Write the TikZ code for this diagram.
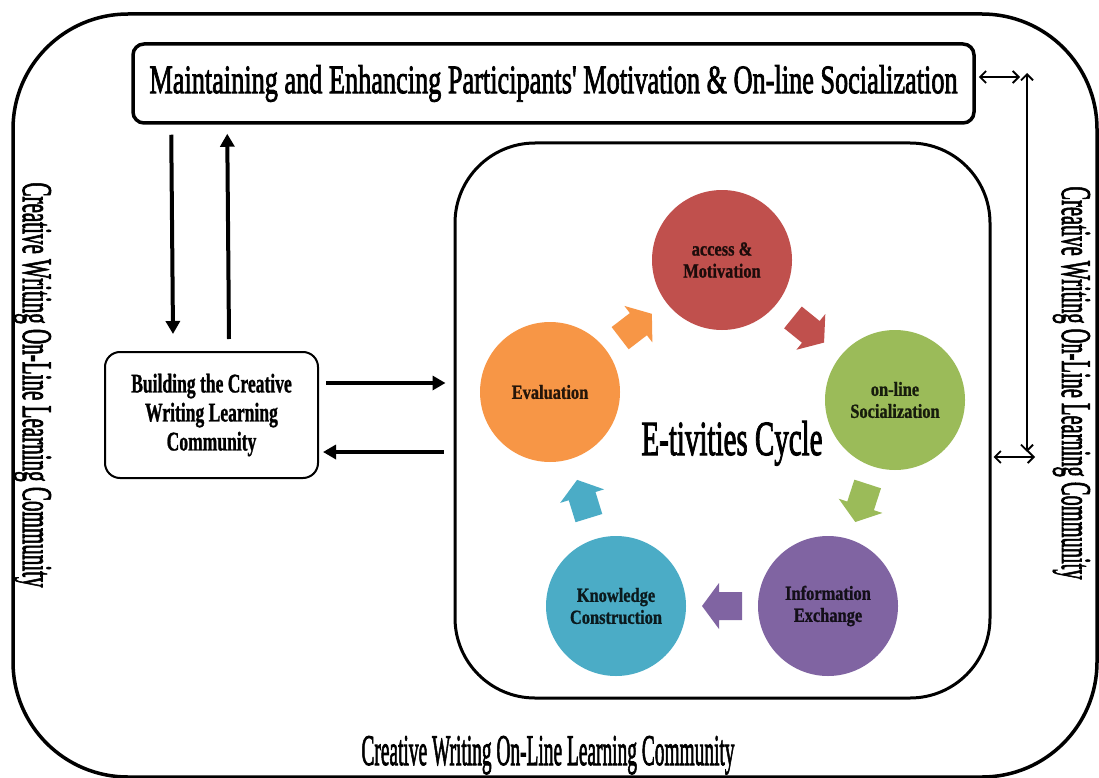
\documentclass[tikz,border=0pt]{standalone}
\usepackage{graphicx}
\usepackage{fontspec}
\setmainfont{Liberation Serif}
\newfontfamily\heavyfont[FakeBold=2.4]{Liberation Serif}
\newfontfamily\circfont[FakeStretch=0.82,FakeBold=1]{Liberation Serif}
\newfontfamily\buildfont[FakeStretch=0.65,FakeBold=1]{Liberation Serif}
\usetikzlibrary{arrows.meta,calc}
\definecolor{cred}{HTML}{C0504D}
\definecolor{cgreen}{HTML}{9BBB59}
\definecolor{cpurple}{HTML}{8064A2}
\definecolor{cblue}{HTML}{4BACC6}
\definecolor{corange}{HTML}{F79646}
\newcommand\fitbox[3]{\resizebox{#1}{#2}{\heavyfont #3}}
\tikzset{
  frame/.style={draw=black, line width=3.5pt, rounded corners=#1},
  circ/.style={circle, minimum size=140pt, inner sep=0pt, align=center,
    font=\circfont\bfseries\fontsize{20pt}{22pt}\selectfont},
  bigarr/.style={line width=4pt, -{Triangle[length=13pt,width=14pt]}},
  dblarr/.style={line width=1.8pt, {Straight Barb[length=6pt,width=12pt]}-{Straight Barb[length=6pt,width=12pt]}},
  label/.style={inner sep=0pt, anchor=base}
}
\begin{document}
\begin{tikzpicture}[x=1pt,y=-1pt]
\useasboundingbox (0,0) rectangle (1099,778);
% outer frame
\draw[frame=115pt] (13,14) rectangle (1097,777);
% top box
\node[frame=11pt, minimum width=841pt, minimum height=79pt, inner sep=0pt] (top) at (553.5,83.5)
  {\fitbox{808pt}{28pt}{Maintaining and Enhancing Participants' Motivation \& On-line Socialization}};
% building box
\node[draw=black, line width=2pt, rounded corners=15pt, minimum width=213pt, minimum height=126pt,
  inner sep=0pt, align=center, font=\buildfont\bfseries\fontsize{27pt}{29pt}\selectfont] (build) at (211.5,415)
  {Building the Creative\\Writing Learning\\Community};
% inner box
\node[frame=80pt, line width=3pt, minimum width=535pt, minimum height=555pt] (inner) at (722.5,420.5) {};
% circles
\node[circ, fill=cred, text=black!85!cred] (acc) at (722,260) {access \&\\Motivation};
\node[circ, fill=cgreen, text=black!85!cgreen] (soc) at (895,400) {on-line\\Socialization};
\node[circ, fill=cpurple, text=black!85!cpurple] (inf) at (828,606) {Information\\Exchange};
\node[circ, fill=cblue, text=black!85!cblue] (kno) at (616,606) {Knowledge\\Construction};
\node[circ, fill=corange, text=black!85!corange] (eva) at (550,392) {Evaluation};
% cycle arrows
\foreach \pa/\pb/\pc in {eva/acc/corange, acc/soc/cred, soc/inf/cgreen, inf/kno/cpurple, kno/eva/cblue}{
  \coordinate (m) at ($(\pa)!0.5!(\pb)$);
  \path let \p1=($(\pb)-(\pa)$), \n1={atan2(\y1,\x1)} in \pgfextra{\xdef\cang{\n1}};
  \fill[\pc, shift={(m)}, rotate=\cang] (-20pt,-14pt) -- (3pt,-14pt) -- (3pt,-23pt) -- (20pt,0pt)
     -- (3pt,23pt) -- (3pt,14pt) -- (-20pt,14pt) -- cycle;
}
% E-tivities label
\node[label] (etc) at (732,455) {\fitbox{181pt}{34pt}{E-tivities Cycle}};
% outer labels
\node[label, rotate=-90] (lleft) at (23,385) {\fitbox{405pt}{28pt}{Creative Writing On-Line Learning Community}};
\node[label, rotate=-90] (lright) at (1062,383) {\fitbox{393pt}{28pt}{Creative Writing On-Line Learning Community}};
\node[label] (lbottom) at (548,765) {\fitbox{373pt}{29pt}{Creative Writing On-Line Learning Community}};
% left vertical arrows
\draw[bigarr] ([xshift=40pt,yshift=-10pt]top.south west) -- ([xshift=-38.5pt,yshift=17pt]build.north);
\draw[bigarr] ([xshift=17.5pt,yshift=12pt]build.north) -- ([xshift=96pt,yshift=-9pt]top.south west);
% horizontal arrows
\draw[bigarr] ([xshift=7pt,yshift=32pt]build.east) -- ([xshift=-8pt,yshift=37.5pt]inner.west);
\draw[bigarr] ([xshift=-10pt,yshift=-31.5pt]inner.west) -- ([xshift=4pt,yshift=-37pt]build.east);
% right double arrows
\coordinate (h1) at (1020,77);
\coordinate (vt) at (1027,73);
\coordinate (vb) at (1027,452);
\coordinate (h2) at (1035,457);
\draw[dblarr] ([xshift=3pt,yshift=6.5pt]top.east) -- (h1);
\draw[dblarr] (vt) -- (vb);
\draw[dblarr] ([xshift=2pt,yshift=-36.5pt]inner.east) -- (h2);
\end{tikzpicture}
\end{document}
